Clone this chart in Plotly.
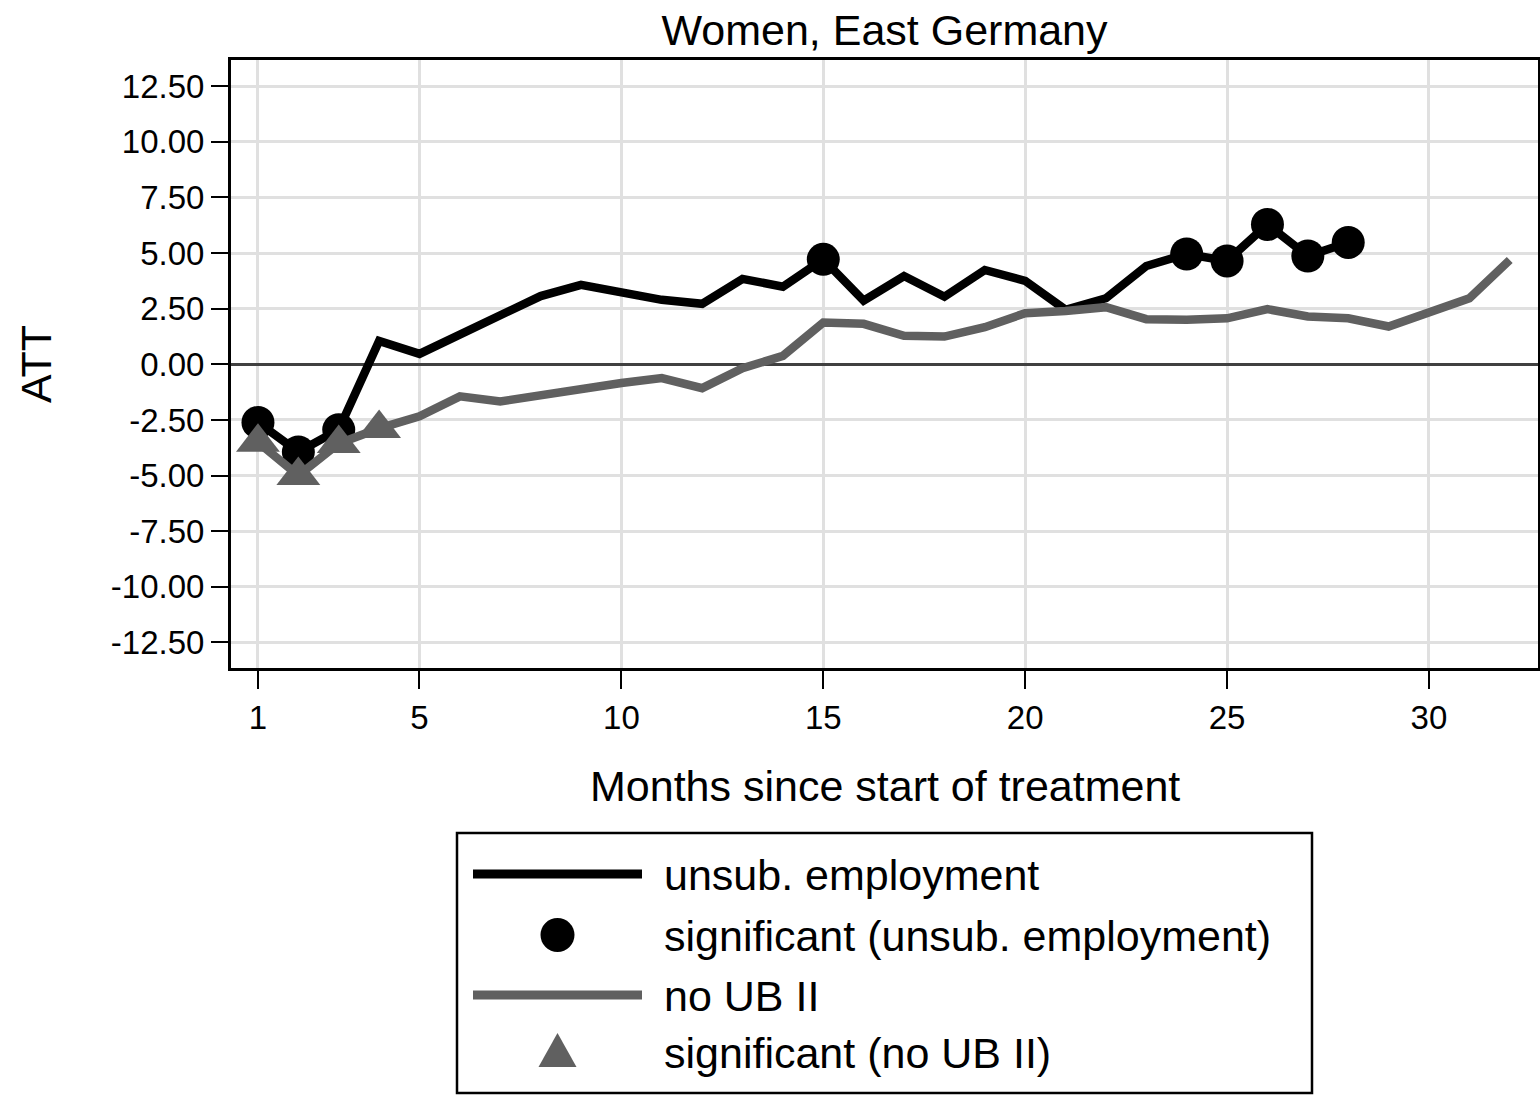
import plotly.graph_objects as go

# ---------------- data ----------------
months = list(range(1, 33))
unsub_employment = [-2.61, -3.94, -2.94, 1.05, 0.47, 1.32, 2.12, 3.07, 3.57, 3.27,
                    2.90, 2.72, 3.84, 3.49, 4.72, 2.86, 3.97, 3.04, 4.24, 3.75,
                    2.45, 2.97, 4.42, 4.96, 4.65, 6.29, 4.87, 5.48]
no_ub2 = [-3.50, -5.00, -3.56, -2.88, -2.34, -1.44, -1.67, -1.37, -1.14, -0.84,
          -0.62, -1.07, -0.17, 0.38, 1.88, 1.82, 1.28, 1.25, 1.67, 2.30,
          2.40, 2.57, 2.03, 2.00, 2.07, 2.48, 2.15, 2.07, 1.70, 2.37,
          2.97, 4.69]
sig_months_unsub = [1, 2, 3, 15, 24, 25, 26, 27, 28]
sig_months_noub = [1, 2, 3, 4]

x_tick_vals = [1, 5, 10, 15, 20, 25, 30]
y_tick_vals = [12.5, 10, 7.5, 5, 2.5, 0, -2.5, -5, -7.5, -10, -12.5]
y_tick_text = ["12.50", "10.00", "7.50", "5.00", "2.50", "0.00", "-2.50",
               "-5.00", "-7.50", "-10.00", "-12.50"]

legend_labels = ["unsub. employment", "significant (unsub. employment)",
                 "no UB II", "significant (no UB II)"]

title_text = "Women, East Germany"
x_title = "Months since start of treatment"
y_title = "ATT"

# ---------------- style ----------------
FONT = "Liberation Sans, Arial, Helvetica, sans-serif"
BIG = 43
TICK = 33
BLACK = "#000000"
GRAY = "#606060"
W, H = 1540, 1096
PL, PR, PT, PB = 231, 1538, 60, 668


def fx(px):
    return (px - PL) / (PR - PL)


def fy(py):
    return (PB - py) / (PB - PT)


n_unsub = len(unsub_employment)
fig = go.Figure()
fig.add_trace(go.Scatter(x=months[:n_unsub], y=unsub_employment, mode="lines",
                         line=dict(color=BLACK, width=8.5), showlegend=False,
                         name=legend_labels[0]))
fig.add_trace(go.Scatter(x=sig_months_unsub,
                         y=[unsub_employment[m - 1] for m in sig_months_unsub],
                         mode="markers", marker=dict(symbol="circle", size=33, color=BLACK),
                         showlegend=False, name=legend_labels[1]))
fig.add_trace(go.Scatter(x=months, y=no_ub2, mode="lines",
                         line=dict(color=GRAY, width=8.5), showlegend=False,
                         name=legend_labels[2]))
fig.add_trace(go.Scatter(x=sig_months_noub,
                         y=[no_ub2[m - 1] for m in sig_months_noub],
                         mode="markers", marker=dict(symbol="triangle-up", size=38, color=GRAY),
                         showlegend=False, name=legend_labels[3]))

# ---------------- custom legend ----------------
shapes = []
shapes.append(dict(type="rect", xref="paper", yref="paper",
                   x0=fx(457), x1=fx(1312), y0=fy(1093), y1=fy(833),
                   line=dict(color=BLACK, width=2.5), fillcolor="white", layer="above"))
row_y = [874, 935, 995, 1052]
shapes.append(dict(type="line", xref="paper", yref="paper",
                   x0=fx(473), x1=fx(642), y0=fy(row_y[0]), y1=fy(row_y[0]),
                   line=dict(color=BLACK, width=9)))
shapes.append(dict(type="circle", xref="paper", yref="paper",
                   x0=fx(557.5 - 17), x1=fx(557.5 + 17), y0=fy(row_y[1] + 17), y1=fy(row_y[1] - 17),
                   line=dict(width=0), fillcolor=BLACK))
shapes.append(dict(type="line", xref="paper", yref="paper",
                   x0=fx(473), x1=fx(642), y0=fy(row_y[2]), y1=fy(row_y[2]),
                   line=dict(color=GRAY, width=9)))
shapes.append(dict(type="path", xref="paper", yref="paper",
                   path="M {a},{b} L {c},{b} L {d},{e} Z".format(
                       a=fx(538.5), b=fy(1067), c=fx(576.5), d=fx(557.5), e=fy(1033)),
                   line=dict(width=0), fillcolor=GRAY))

annotations = []
for lbl, yy in zip(legend_labels, row_y):
    annotations.append(dict(text=lbl, xref="paper", yref="paper", x=fx(662), y=fy(yy + 1),
                            xanchor="left", yanchor="middle", showarrow=False,
                            font=dict(family=FONT, size=BIG, color=BLACK)))
# axis titles
annotations.append(dict(text=x_title, xref="paper", yref="paper", x=fx(885), y=fy(786),
                        xanchor="center", yanchor="middle", showarrow=False,
                        font=dict(family=FONT, size=BIG, color=BLACK)))
annotations.append(dict(text=y_title, xref="paper", yref="paper", x=fx(36), y=fy(364),
                        xanchor="center", yanchor="middle", showarrow=False, textangle=-90,
                        font=dict(family=FONT, size=BIG, color=BLACK)))

fig.update_layout(
    width=W, height=H,
    margin=dict(l=PL, r=W - PR, t=PT, b=H - PB, autoexpand=False),
    paper_bgcolor="white", plot_bgcolor="white",
    font=dict(family=FONT, color=BLACK),
    title=dict(text=title_text, x=0.5, xref="paper", xanchor="center",
               y=1 - 30 / H, yref="container", yanchor="middle",
               font=dict(family=FONT, size=BIG, color=BLACK)),
    shapes=shapes, annotations=annotations, showlegend=False,
)
fig.update_xaxes(range=[0.332, 32.70], tickmode="array", tickvals=x_tick_vals,
                 ticks="outside", ticklen=18, tickwidth=2, tickcolor=BLACK,
                 tickfont=dict(family=FONT, size=TICK, color=BLACK),
                 showgrid=True, gridcolor="#e0e0e0", gridwidth=3,
                 showline=True, linecolor=BLACK, linewidth=3, mirror=True,
                 zeroline=False, automargin=False)
fig.update_yaxes(range=[-13.65, 13.68], tickmode="array", tickvals=y_tick_vals,
                 ticktext=y_tick_text,
                 ticks="outside", ticklen=17, tickwidth=2, tickcolor=BLACK,
                 tickfont=dict(family=FONT, size=TICK, color=BLACK),
                 showgrid=True, gridcolor="#e0e0e0", gridwidth=3,
                 showline=True, linecolor=BLACK, linewidth=3, mirror=True,
                 zeroline=True, zerolinecolor="#404040", zerolinewidth=3,
                 automargin=False)

fig.write_html("out.html", config={"displayModeBar": False},
               post_script="document.body.style.margin='0';document.body.style.overflow='hidden';")
